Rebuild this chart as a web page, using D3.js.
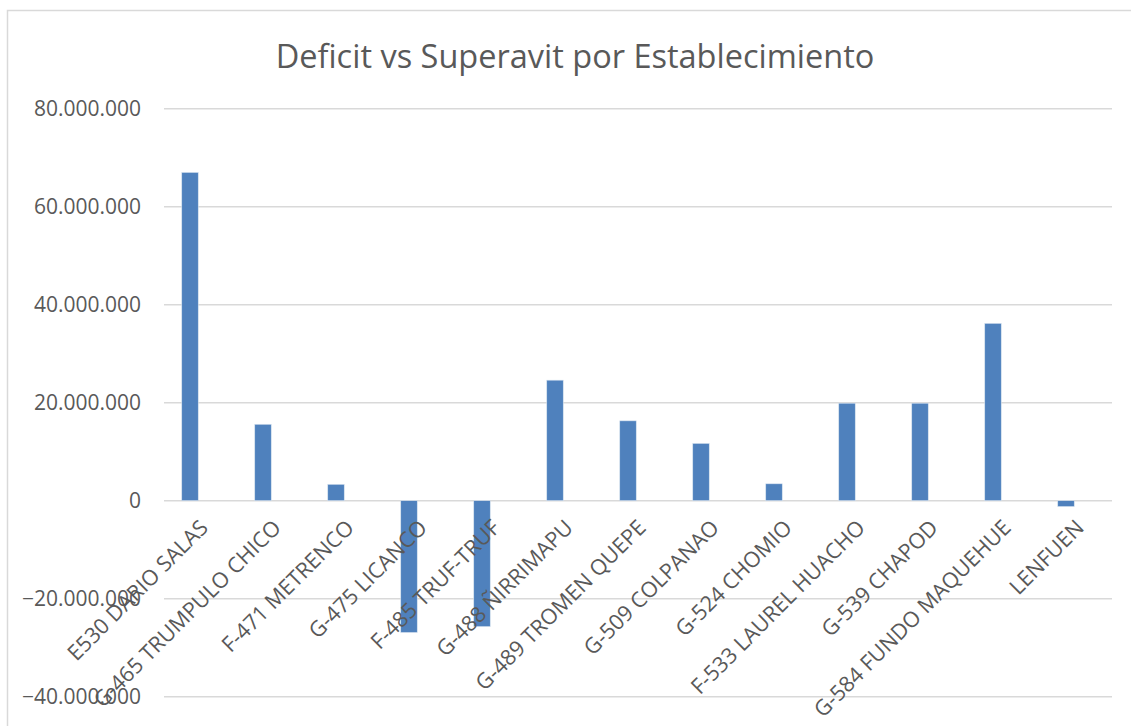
<!DOCTYPE html>
<html>
<head>
<meta charset="utf-8">
<script src="https://cdn.jsdelivr.net/npm/d3@7"></script>
<style>
  html, body { margin: 0; padding: 0; background: #fff; }
  svg { display: block; }
  text { font-family: "Open Sans", "Noto Sans", sans-serif; fill: #595959; }
</style>
</head>
<body>
<svg id="chart" width="1131" height="726"></svg>
<script>
// Establishments and their balance (CLP)
const categories = [
  "E530 DARIO SALAS",
  "G-465 TRUMPULO CHICO",
  "F-471 METRENCO",
  "G-475 LICANCO",
  "F-485 TRUF-TRUF",
  "G-488 ÑIRRIMAPU",
  "G-489 TROMEN QUEPE",
  "G-509 COLPANAO",
  "G-524 CHOMIO",
  "F-533 LAUREL HUACHO",
  "G-539 CHAPOD",
  "G-584 FUNDO MAQUEHUE",
  "LENFUEN"
];
const balances = [
  67000000, 15600000, 3350000, -26900000, -25700000, 24600000,
  16300000, 11700000, 3450000, 19900000, 19900000, 36200000, -1200000
];
const yTicks = [-40000000, -20000000, 0, 20000000, 40000000, 60000000, 80000000];
const title = "Deficit vs Superavit por Establecimiento";

const svg = d3.select("#chart");
const W = 1131, H = 726;

// Chart frame
svg.append("path")
  .attr("d", `M7.5,${H} V10.5 H${W}`)
  .attr("fill", "none")
  .attr("stroke", "#d9d9d9")
  .attr("stroke-width", 1.5);

// Plot area
const plot = { left: 164, right: 1112, top: 108.7, bottom: 696.7 };

const y = d3.scaleLinear()
  .domain([-40000000, 80000000])
  .range([plot.bottom, plot.top]);

const x = d3.scaleBand()
  .domain(categories)
  .range([153.5, 1102.5])
  .paddingInner(0.774)
  .paddingOuter(0.387);

const fmt = v => d3.format(",")(v).replace(/,/g, ".");

// Gridlines
svg.append("g")
  .selectAll("line")
  .data(yTicks)
  .join("line")
  .attr("x1", plot.left)
  .attr("x2", plot.right)
  .attr("y1", d => y(d))
  .attr("y2", d => y(d))
  .attr("stroke", "#d9d9d9")
  .attr("stroke-width", 1.5);

// Y axis labels
const yAxis = d3.axisLeft(y)
  .tickValues(yTicks)
  .tickFormat(fmt)
  .tickSize(0)
  .tickPadding(0);

svg.append("g")
  .attr("transform", "translate(141,0)")
  .call(yAxis)
  .call(g => g.select(".domain").remove())
  .call(g => g.selectAll("text")
    .attr("fill", "#595959")
    .style("font-size", "21px")
    .style("font-family", "'Open Sans', sans-serif"));

// Bars
svg.append("g")
  .selectAll("rect")
  .data(categories.map((c, i) => ({ c, v: balances[i] })))
  .join("rect")
  .attr("x", d => x(d.c))
  .attr("width", x.bandwidth())
  .attr("y", d => y(Math.max(0, d.v)))
  .attr("height", d => Math.abs(y(d.v) - y(0)))
  .attr("fill", "#4f81bd")
  .attr("stroke", "#dbe5f1")
  .attr("stroke-width", 0.6);

// Category labels, rotated 45°
svg.append("g")
  .selectAll("text")
  .data(categories)
  .join("text")
  .attr("transform", d => `translate(${x(d) + x.bandwidth() / 2 + 14},${y(0) + 23}) rotate(-45)`)
  .attr("text-anchor", "end")
  .attr("dy", "0.35em")
  .style("font-size", "21.6px")
  .text(d => d);

// Title
svg.append("text")
  .attr("x", 575)
  .attr("y", 68)
  .attr("text-anchor", "middle")
  .style("font-size", "32.5px")
  .text(title);
</script>
</body>
</html>
